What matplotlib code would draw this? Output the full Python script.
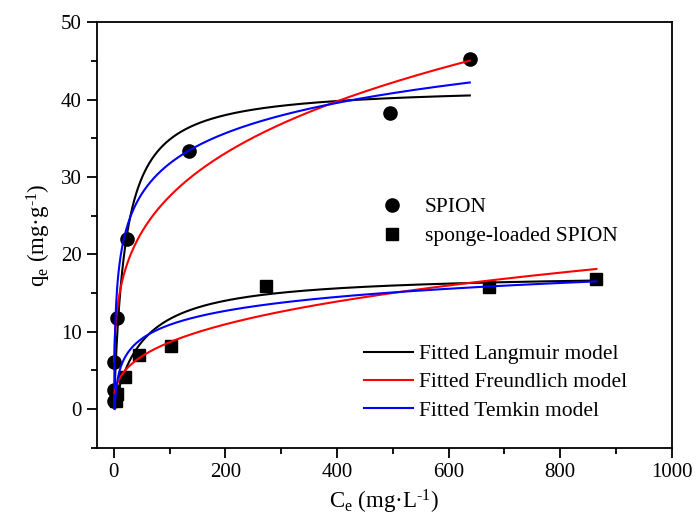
import numpy as np
import matplotlib
matplotlib.use('Agg')
import matplotlib.pyplot as plt
from matplotlib.ticker import MultipleLocator

plt.rcParams['font.family'] = ['Liberation Serif', 'DejaVu Serif']
plt.rcParams['mathtext.fontset'] = 'custom'
plt.rcParams['mathtext.rm'] = 'Liberation Serif'
plt.rcParams['mathtext.it'] = 'Liberation Serif:italic'

# measured points
spion_c = [0.5, 1, 1, 5, 24, 134, 495, 638]
spion_q = [1.0, 2.5, 6.1, 11.8, 22.0, 33.4, 38.3, 45.3]
sponge_c = [3, 5, 20, 45, 103, 273, 672, 865]
sponge_q = [1.0, 1.9, 4.2, 7.0, 8.1, 15.9, 15.8, 16.8]

# fitted model parameters
spion_langmuir = [41.8, 0.05]      # qm, K
spion_freundlich = [8.08, 0.266]   # KF, 1/n
spion_temkin = [5.65, 2.75]        # B, A
sponge_langmuir = [17.6, 0.0195]
sponge_freundlich = [1.78, 0.343]
sponge_temkin = [2.6, 0.659]


def langmuir(c, p):
    return p[0] * p[1] * c / (1 + p[1] * c)


def freundlich(c, p):
    return p[0] * c ** p[1]


def temkin(c, p):
    return p[0] * np.log(p[1] * c)


fig = plt.figure(figsize=(6.99, 5.28), dpi=100)
ax = fig.add_axes([0.139, 0.152, 0.822, 0.806])

ax.plot(spion_c, spion_q, 'o', color='black', ms=9.5, label='SPION', zorder=2)
ax.plot(sponge_c, sponge_q, 's', color='black', ms=8.5, label='sponge-loaded SPION', zorder=2)

c1 = np.linspace(0.37, 638, 2000)
c2 = np.linspace(1.52, 865, 2000)
lw = 1.5
l1, = ax.plot(c1, langmuir(c1, spion_langmuir), color='black', lw=lw, zorder=3)
l2, = ax.plot(c1, freundlich(c1, spion_freundlich), color='red', lw=lw, zorder=3)
l3, = ax.plot(c1, temkin(c1, spion_temkin), color='blue', lw=lw, zorder=3)
ax.plot(c2, langmuir(c2, sponge_langmuir), color='black', lw=lw, zorder=3)
ax.plot(c2, freundlich(c2, sponge_freundlich), color='red', lw=lw, zorder=3)
ax.plot(c2, temkin(c2, sponge_temkin), color='blue', lw=lw, zorder=3)

ax.set_xlim(-30, 1000)
ax.set_ylim(-5, 50)
ax.xaxis.set_major_locator(MultipleLocator(200))
ax.xaxis.set_minor_locator(MultipleLocator(100))
ax.yaxis.set_major_locator(MultipleLocator(10))
ax.yaxis.set_minor_locator(MultipleLocator(5))
ax.tick_params(which='both', direction='out', top=False, right=False, labelsize=15, width=1.3)
ax.tick_params(which='major', length=7.5)
ax.tick_params(which='minor', length=4)
for s in ax.spines.values():
    s.set_linewidth(1.3)

ax.set_xlabel(r'C$_\mathregular{e}$ (mg·L$^\mathregular{\text{-1}}$)', fontsize=16.5, labelpad=4)
ax.set_ylabel(r'q$_\mathregular{e}$ (mg·g$^\mathregular{\text{-1}}$)', fontsize=16.5, labelpad=6)

leg1 = ax.legend(loc='center left', bbox_to_anchor=(0.533, 0.58), bbox_transform=fig.transFigure,
                 frameon=False, fontsize=15.5, handlelength=1.0, handletextpad=1.03,
                 labelspacing=0.42, borderaxespad=0)
ax.add_artist(leg1)
ax.legend([l1, l2, l3], ['Fitted Langmuir model', 'Fitted Freundlich model', 'Fitted Temkin model'],
          loc='center left', bbox_to_anchor=(0.508, 0.276), bbox_transform=fig.transFigure,
          frameon=False, fontsize=15.5, handlelength=2.28, handletextpad=0.28,
          labelspacing=0.38, borderaxespad=0)

fig.savefig('out.png', dpi=100)
